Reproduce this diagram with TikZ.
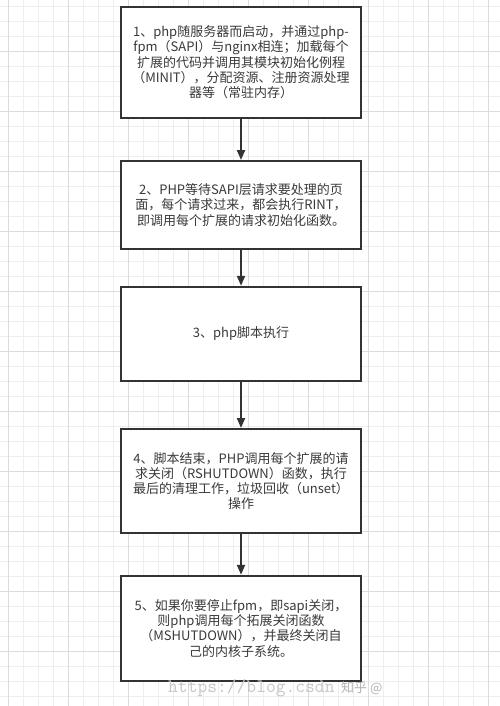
\documentclass[tikz,border=0pt]{standalone}
\usepackage{fontspec}
\setmainfont{Noto Sans CJK SC}
\usetikzlibrary{arrows.meta}
\definecolor{gridminor}{HTML}{EEEEEE}
\definecolor{gridmajor}{HTML}{DCDCDC}
\definecolor{boxline}{HTML}{333333}
\definecolor{txt}{HTML}{3A3A3A}
\begin{document}
\begin{tikzpicture}[x=1pt,y=-1pt,
  stepbox/.style={draw=boxline,line width=2pt,fill=white,minimum width=240pt,
    text width=232pt,align=center,inner sep=0pt,text=txt,
    font=\fontsize{13}{15.2}\selectfont},
  flow/.style={draw=boxline,line width=2pt,-{Triangle[length=10pt,width=8pt]}}]
\useasboundingbox (0,0) rectangle (500,706);
\fill[white] (0,0) rectangle (500,706);
\foreach \i in {0,...,33} {\draw[gridminor,line width=0.7pt] (8.3+15*\i,0) -- (8.3+15*\i,706);}
\foreach \i in {0,...,47} {\draw[gridminor,line width=0.7pt] (0,6.7+15*\i) -- (500,6.7+15*\i);}
\foreach \i in {0,...,8} {\draw[gridmajor,line width=0.8pt] (8.3+60*\i,0) -- (8.3+60*\i,706);}
\foreach \i in {-1,...,11} {\draw[gridmajor,line width=0.8pt] (0,51.7+60*\i) -- (500,51.7+60*\i);}
\node[stepbox,minimum height=111pt] (s1) at (241,62.3) {1、php随服务器而启动，并通过php-\\fpm（SAPI）与nginx相连；加载每个\\扩展的代码并调用其模块初始化例程\\（MINIT），分配资源、注册资源处理\\器等（常驻内存）};
\node[stepbox,minimum height=88pt] (s2) at (241,205) {2、PHP等待SAPI层请求要处理的页\\面，每个请求过来，都会执行RINT，\\即调用每个扩展的请求初始化函数。};
\node[stepbox,minimum height=94pt] (s3) at (241,333.8) {3、php脚本执行};
\node[stepbox,minimum height=104pt] (s4) at (241,481) {4、脚本结束，PHP调用每个扩展的请\\求关闭（RSHUTDOWN）函数，执行\\最后的清理工作，垃圾回收（unset）\\操作};
\node[stepbox,minimum height=105pt] (s5) at (241,628.3) {5、如果你要停止fpm，即sapi关闭，\\则php调用每个拓展关闭函数\\（MSHUTDOWN），并最终关闭自\\己的内核子系统。};
\draw[flow] (s1.south) -- (s2.north);
\draw[flow] (s2.south) -- (s3.north);
\draw[flow] (s3.south) -- (s4.north);
\draw[flow] (s4.south) -- (s5.north);
\node[anchor=west,text=black!22,font=\ttfamily\fontsize{19}{19}\selectfont,inner sep=0pt] (wm1) at (168,688) {https://blog.csdn};
\node[anchor=west,text=black!30,font=\fontsize{13}{13}\selectfont,inner sep=0pt] (wm2) at (341,688) {知乎 @};
\end{tikzpicture}
\end{document}
